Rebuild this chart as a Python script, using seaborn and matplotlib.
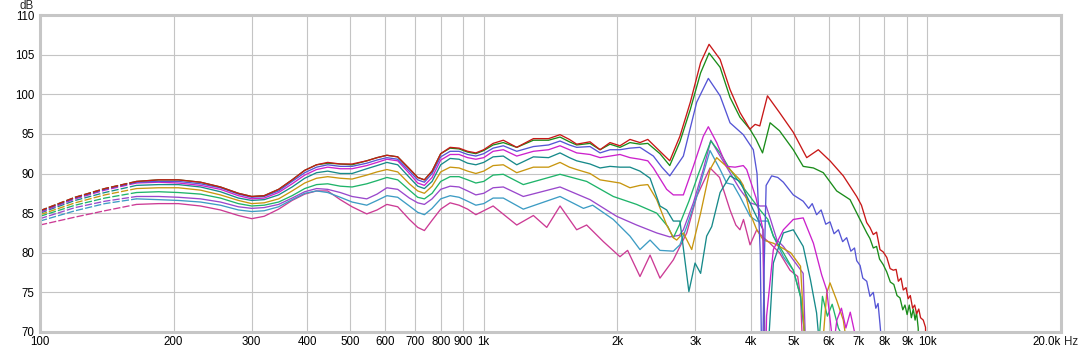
import matplotlib
matplotlib.use("Agg")
import matplotlib.pyplot as plt
import pandas as pd
import seaborn as sns

# ---------------- data ----------------
# shared low-frequency reading points (Hz)
low_f = [100,120,140,165,185,205,230,255,280,300,320,345,370,395,420,445,475,505,545,575,
         605,640,680,710,735,765,800,840,880,920,960,1000,1050]

red_low = [85.3,87.0,88.1,89.0,89.2,89.2,88.9,88.3,87.5,87.1,87.2,88.0,89.2,90.4,91.1,91.4,91.2,91.2,91.6,92.0,
           92.3,92.1,90.6,89.5,89.2,90.3,92.5,93.3,93.2,92.8,92.6,93.0,93.8]
green_low = [85.3,87.0,88.1,89.0,89.2,89.2,88.9,88.3,87.5,87.1,87.2,88.0,89.2,90.4,91.1,91.3,91.2,91.1,91.6,92.0,
             92.3,92.1,90.6,89.5,89.2,90.3,92.5,93.2,93.1,92.7,92.5,92.9,93.6]
blue_low = [85.2,86.9,88.0,88.9,89.0,89.0,88.7,88.2,87.4,87.0,87.1,87.8,89.0,90.1,90.8,91.1,90.9,90.9,91.3,91.7,
            92.0,91.8,90.3,89.2,88.9,90.0,92.1,92.8,92.8,92.4,92.2,92.5,93.2]
magenta_low = [85.1,86.8,87.9,88.8,88.9,88.8,88.5,88.0,87.2,86.8,86.9,87.6,88.7,89.8,90.5,90.8,90.6,90.6,91.0,91.4,
               91.8,91.6,90.0,88.8,88.5,89.5,91.7,92.4,92.4,92.0,91.8,92.0,92.8]
teal_low = [85.0,86.6,87.6,88.5,88.6,88.6,88.3,87.7,86.9,86.6,86.7,87.3,88.3,89.4,90.1,90.3,90.0,90.0,90.6,91.0,
            91.4,91.1,89.5,88.4,88.1,89.0,91.1,91.9,91.8,91.3,91.1,91.4,92.1]
gold_low = [84.8,86.3,87.3,88.1,88.2,88.2,87.9,87.3,86.6,86.2,86.3,86.8,87.8,88.8,89.4,89.6,89.4,89.3,89.8,90.2,
            90.5,90.2,88.7,87.8,87.5,88.4,90.2,90.8,90.7,90.3,90.0,90.3,91.0]
seagreen_low = [84.6,86.0,86.9,87.6,87.7,87.6,87.4,86.9,86.2,85.9,86.0,86.4,87.2,88.1,88.6,88.7,88.4,88.3,88.7,89.1,
                89.5,89.2,87.9,87.0,86.8,87.5,89.0,89.6,89.6,89.2,88.8,89.0,89.8]
purple_low = [84.3,85.7,86.5,87.1,87.1,87.0,86.8,86.4,85.8,85.6,85.7,86.1,86.9,87.7,88.1,88.0,87.6,87.1,86.8,87.4,
              88.2,88.0,86.9,86.3,86.1,86.8,88.0,88.4,88.3,87.8,87.3,87.5,88.2]
steel_low = [84.0,85.3,86.2,86.8,86.7,86.6,86.4,86.0,85.4,85.2,85.3,85.8,86.7,87.5,87.8,87.6,87.0,86.4,86.0,86.6,
             87.2,87.0,85.9,85.1,84.8,85.6,86.8,87.2,87.0,86.5,86.0,86.2,86.9]
pink_low = [83.5,84.5,85.3,86.1,86.2,86.2,85.9,85.4,84.7,84.3,84.6,85.5,86.6,87.4,87.8,87.8,86.7,85.8,84.9,85.4,
            86.1,85.8,84.2,83.2,82.8,84.1,85.5,86.3,86.0,85.5,84.8,85.3,85.9]

# higher-frequency reading points, per curve
red_hi_f = [1107,1187,1294,1400,1486,1560,1620,1736,1829,1926,2028,2136,2250,2343,2496,2626,2768,
            2922,3082,3220,3410,3590,3780,3980,4090,4190,4360,4640,4985,5345,5676,6032,6462,6928,
            7100,7298,7420,7550,7680,7818,7950,8100,8240,8376,8500,8600,8720,8822,8950,9050,9150,
            9260,9360,9456,9560,9650,9787,9900,9950]
red_hi_db = [94.2,93.3,94.4,94.4,94.9,94.3,93.7,94.0,93.0,93.9,93.5,94.3,93.9,94.3,92.8,91.6,94.7,
             99.0,104.0,106.3,104.4,100.6,97.7,95.6,96.2,96.0,99.8,97.7,95.2,92.0,93.0,91.6,89.7,87.1,
             86.0,83.8,83.2,82.3,82.6,80.4,80.1,79.4,78.0,77.8,77.9,76.4,76.8,75.3,75.6,74.2,74.6,
             73.0,73.4,72.3,72.9,71.8,71.5,70.6,65.0]

green_hi_f = [1107,1187,1294,1400,1486,1560,1620,1736,1829,1926,2028,2136,2250,2343,2496,2626,2768,
              2922,3082,3220,3410,3590,3780,3980,4110,4250,4420,4640,4985,5248,5534,5826,6244,6693,
              7047,7300,7420,7551,7680,7800,7950,8094,8250,8400,8540,8673,8800,8900,9000,9100,9200,
              9292,9380,9450,9532,9580]
green_hi_db = [93.9,93.3,94.2,94.2,94.6,94.0,93.6,93.8,93.0,93.7,93.3,93.9,93.7,93.8,92.5,91.0,94.0,
               98.1,102.7,105.2,103.4,99.6,97.1,95.6,94.3,92.6,96.4,95.4,93.0,90.9,90.7,90.1,87.8,86.7,
               84.2,82.5,81.8,80.6,80.8,79.2,78.5,77.6,76.3,76.0,74.6,74.3,72.8,73.4,72.2,73.4,71.8,
               72.9,71.5,72.5,70.5,65.0]

blue_hi_f = [1107,1187,1294,1400,1486,1560,1620,1736,1829,1926,2028,2136,2250,2412,2520,2626,2818,
             3020,3208,3410,3590,3846,4051,4130,4200,4240,4285,4330,4456,4600,4735,4985,
             5248,5400,5500,5626,5760,5900,6032,6160,6300,6440,6577,6720,6850,6928,7050,7150,
             7298,7420,7551,7650,7740,7818,7900]
blue_hi_db = [93.5,92.8,93.4,93.6,94.1,93.6,93.3,93.4,92.6,93.0,93.0,93.2,93.3,92.2,90.8,89.7,92.2,
              99.0,102.0,99.8,96.4,94.9,93.0,90.0,80.0,62.0,78.0,88.5,89.7,89.5,88.9,87.3,
              86.5,85.6,86.2,84.8,85.4,83.6,83.9,82.4,82.9,81.4,81.9,80.2,80.6,79.0,78.4,76.8,
              76.4,74.5,75.0,73.0,73.6,71.0,68.0]

magenta_hi_f = [1107,1187,1294,1400,1486,1560,1620,1736,1829,1926,2028,2136,2250,2343,2412,2584,2675,
                2818,2968,3125,3208,3350,3528,3686,3846,3914,4110,4260,4300,4340,4495,4735,4985,5248,
                5534,5777,5929,6137,6250,6400,6550,6700,6850,6950]
magenta_hi_db = [93.0,92.2,92.8,93.0,93.5,93.0,92.6,92.4,92.0,92.2,92.4,92.0,91.8,91.6,90.7,88.0,87.3,
                 87.3,90.9,94.7,95.9,93.9,90.9,90.8,91.0,90.5,86.9,82.9,60.0,72.0,80.4,82.9,84.2,84.4,
                 81.2,77.2,75.3,68.0,71.5,73.0,70.5,72.5,70.0,66.0]

teal_hi_f = [1107,1187,1294,1400,1486,1560,1620,1736,1829,1926,2028,2136,2250,2371,2496,2584,2675,
             2768,2900,2994,3082,3180,3265,3410,3590,3780,4051,4260,4330,4400,4495,4735,4985,5248,
             5449,5626,5717]
teal_hi_db = [92.2,91.1,92.1,92.0,92.6,92.0,91.6,91.2,90.7,90.9,90.8,90.8,90.3,89.4,85.9,85.4,84.0,
              84.0,75.1,78.7,77.4,82.1,83.3,87.6,89.7,89.0,85.4,82.9,60.0,70.0,78.7,82.5,82.9,80.8,
              76.6,72.4,68.0]

gold_hi_f = [1107,1187,1294,1400,1486,1560,1620,1736,1829,1926,2028,2136,2250,2343,2454,2584,2675,
             2722,2818,2943,3082,3236,3350,3590,3780,3846,3983,4124,4267,4495,4640,4920,5176,5300,
             5800,5929,6032,6244,6462,6600]
gold_hi_db = [91.1,90.1,90.8,90.8,91.4,90.8,90.5,90.0,89.2,89.0,88.8,88.2,88.5,88.6,86.7,83.5,81.9,
              81.6,82.5,80.4,85.0,90.5,92.0,90.5,89.2,88.5,85.0,82.9,81.6,81.2,80.8,80.0,78.3,68.0,
              68.0,74.9,76.2,74.0,71.5,68.0]

seagreen_hi_f = [1107,1228,1486,1706,1959,2211,2454,2600,2675,2760,2900,3050,3250,3410,3590,3780,
                 3983,4195,4370,4495,4735,4985,5176,5330,5700,5800,5950,6100,6300,6500]
seagreen_hi_db = [89.9,88.6,89.9,89.0,87.1,86.1,85.0,83.3,81.9,83.5,86.5,90.0,94.1,92.6,90.5,88.8,
                  87.1,85.4,84.2,82.1,80.0,77.8,74.5,68.0,69.0,74.5,72.0,73.5,70.5,69.0]

purple_hi_f = [1107,1228,1486,1736,1993,2211,2454,2626,2760,2818,2968,3125,3250,3410,3590,3780,
               3983,4195,4330,4430,4580,4735,4985,5248,5330]
purple_hi_db = [88.3,87.1,88.3,86.7,84.6,83.5,82.5,82.0,82.2,82.9,86.3,90.5,94.2,92.2,90.1,88.0,
                86.3,85.9,85.9,84.2,81.6,80.8,79.1,77.4,66.0]

steel_hi_f = [1107,1228,1486,1678,1760,1959,2136,2250,2371,2496,2675,2768,2868,3020,3236,3410,
              3528,3650,3780,3983,4124,4370,4495,4735,4985,5176,5330]
steel_hi_db = [86.9,85.5,87.1,85.6,86.0,84.2,82.1,80.4,81.6,80.3,80.2,81.0,83.3,87.1,92.9,90.5,
               88.8,88.6,87.1,84.6,84.0,84.0,82.1,79.5,77.8,74.5,68.0]

pink_hi_f = [1187,1294,1387,1486,1620,1706,1861,2028,2110,2250,2371,2496,2675,2868,3020,3236,
             3400,3590,3700,3780,3850,3983,4124,4250,4400,4640,4900,5100,5176,5250]
pink_hi_db = [83.5,84.7,83.2,85.9,82.9,83.5,81.4,79.5,80.3,77.0,79.7,76.8,79.1,82.5,87.1,90.7,
              89.5,85.4,83.5,82.9,84.2,81.0,82.9,82.0,81.3,80.0,77.8,77.0,74.5,66.0]

series = [
    ("pink", pink_low, pink_hi_f, pink_hi_db, "#cc3b95"),
    ("steel", steel_low, steel_hi_f, steel_hi_db, "#3d9cc4"),
    ("purple", purple_low, purple_hi_f, purple_hi_db, "#9a48cc"),
    ("seagreen", seagreen_low, seagreen_hi_f, seagreen_hi_db, "#1fb46a"),
    ("gold", gold_low, gold_hi_f, gold_hi_db, "#c8960f"),
    ("teal", teal_low, teal_hi_f, teal_hi_db, "#178a8a"),
    ("magenta", magenta_low, magenta_hi_f, magenta_hi_db, "#cc22cc"),
    ("blue", blue_low, blue_hi_f, blue_hi_db, "#5555d5"),
    ("green", green_low, green_hi_f, green_hi_db, "#1a8c1a"),
    ("red", red_low, red_hi_f, red_hi_db, "#c81818"),
]

x_ticks = [100, 200, 300, 400, 500, 600, 700, 800, 900, 1000,
           2000, 3000, 4000, 5000, 6000, 7000, 8000, 9000, 10000, 20000]
x_labels = ["100", "200", "300", "400", "500", "600", "700", "800", "900", "1k",
            "2k", "3k", "4k", "5k", "6k", "7k", "8k", "9k", "10k", "20.0k"]
y_ticks = [70, 75, 80, 85, 90, 95, 100, 105, 110]
DASH_END = 165

# ---------------- figure ----------------
sns.set_theme(style="white")
plt.rcParams["font.family"] = ["Liberation Sans", "DejaVu Sans"]

W, H = 1078, 352
fig = plt.figure(figsize=(W / 100, H / 100), dpi=100)
L, R, T, B = 40, 1061, 15, 332
ax = fig.add_axes([L / W, 1 - B / H, (R - L) / W, (B - T) / H])

rows = []
for name, low_db, hi_f, hi_db, col in series:
    pts = list(zip(low_f, low_db)) + list(zip(hi_f, hi_db))
    for fi, di in pts:
        if fi <= DASH_END:
            rows.append((name, "dash", fi, di))
        if fi >= DASH_END:
            rows.append((name, "solid", fi, di))
df = pd.DataFrame(rows, columns=["curve", "seg", "freq", "db"])

for name, _, _, _, col in series:
    d = df[(df.curve == name) & (df.seg == "dash")]
    sns.lineplot(data=d, x="freq", y="db", ax=ax, color=col, lw=0.95,
                 estimator=None, sort=False, legend=False,
                 linestyle=(0, (5.5, 1.6)))
    s = df[(df.curve == name) & (df.seg == "solid")]
    sns.lineplot(data=s, x="freq", y="db", ax=ax, color=col, lw=0.95,
                 estimator=None, sort=False, legend=False)

ax.set_xscale("log")
ax.set_xlim(100, 20000)
ax.set_ylim(70, 110)
ax.set_xticks(x_ticks)
ax.set_xticklabels(x_labels)
ax.xaxis.set_minor_locator(matplotlib.ticker.NullLocator())
ax.set_yticks(y_ticks)
ax.set_yticklabels([str(v) for v in y_ticks])
ax.set_xlabel("")
ax.set_ylabel("")
ax.grid(True, which="major", color="#c4c4c4", lw=0.8)
ax.set_axisbelow(True)
ax.tick_params(axis="both", length=0, labelsize=8.3, colors="#000000")
ax.tick_params(axis="x", pad=3.2)
ax.tick_params(axis="y", pad=4)
ax.get_xticklabels()[-1].set_horizontalalignment("right")
for sp in ax.spines.values():
    sp.set_color("#c6c6c6")
    sp.set_linewidth(2.2)
    sp.set_visible(True)

# unit label after the last tick label
ax.annotate("Hz", xy=(1, 0), xycoords="axes fraction", xytext=(2, -3.2),
            textcoords="offset points", ha="left", va="top", fontsize=8.3)
fig.text(27 / W, 1 - 6 / H, "dB", ha="center", va="center", fontsize=8.3)

fig.savefig("out.png", dpi=100, facecolor="white")
